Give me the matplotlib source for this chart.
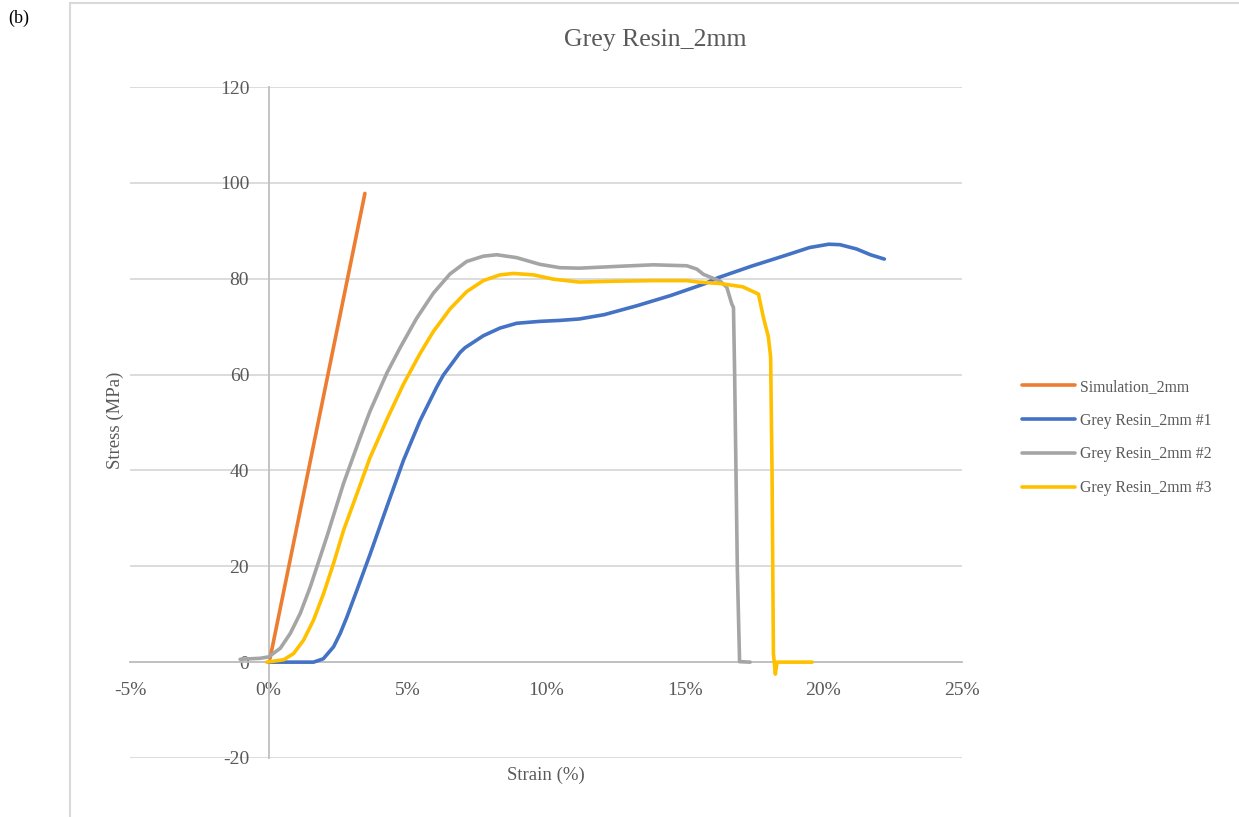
import matplotlib
matplotlib.use("Agg")
import matplotlib.pyplot as plt
from matplotlib.ticker import FuncFormatter
from matplotlib.lines import Line2D

# ---------------- data (strain in %, stress in MPa) ----------------
sim_strain = [0.05, 3.47]
sim_stress = [0.8, 97.8]

s1_strain = [0, 1.0, 1.62, 1.97, 2.34, 2.58, 2.82, 3.18, 3.65, 4.26, 4.86, 5.46, 6.06, 6.3,
             6.9, 7.08, 7.74, 8.34, 8.94, 9.78, 10.5, 11.2, 12.1, 13.3, 14.5, 15.7, 16.2,
             17.4, 18.6, 19.5, 20.2, 20.6, 21.2, 21.7, 22.2]
s1_stress = [0, 0, 0, 0.7, 3.2, 6.0, 9.4, 15.0, 22.4, 32.4, 42.1, 50.4, 57.4, 59.9,
             64.6, 65.6, 68.1, 69.7, 70.7, 71.1, 71.3, 71.6, 72.5, 74.4, 76.5, 78.9, 80.2,
             82.6, 84.8, 86.5, 87.2, 87.1, 86.2, 85.0, 84.1]

s2_strain = [-1.03, -0.31, 0, 0.42, 0.78, 1.14, 1.5, 2.1, 2.7, 3.3, 3.65, 4.26, 4.73, 5.33,
             5.94, 6.54, 7.14, 7.74, 8.22, 8.94, 9.78, 10.5, 11.2, 12.67, 13.87, 15.08, 15.44,
             15.68, 16.28, 16.52, 16.7, 16.76, 16.8, 16.9, 16.98, 17.36]
s2_stress = [0.6, 0.8, 1.1, 2.9, 6.0, 10.2, 15.7, 26.2, 37.3, 46.9, 52.3, 60.3, 65.5, 71.7,
             77.0, 81.0, 83.6, 84.7, 85.0, 84.4, 83.0, 82.3, 82.2, 82.6, 82.9, 82.7, 82.0,
             80.9, 79.5, 78.2, 74.7, 74.0, 60.8, 19.2, 0.1, 0]

s3_strain = [-0.07, 0.54, 0.9, 1.26, 1.62, 1.98, 2.34, 2.7, 3.3, 3.65, 4.26, 4.86, 5.46, 5.94,
             6.54, 7.14, 7.74, 8.34, 8.83, 9.55, 10.27, 11.2, 12.67, 13.87, 15.08, 15.5, 16.28,
             17.1, 17.36, 17.66, 17.84, 18.02, 18.1, 18.15, 18.2, 18.27, 18.33, 19.6]
s3_stress = [0, 0.5, 1.8, 4.6, 8.8, 14.3, 20.6, 27.5, 37.0, 42.6, 50.6, 58.0, 64.4, 69.0,
             73.7, 77.3, 79.6, 80.8, 81.1, 80.8, 79.9, 79.3, 79.5, 79.6, 79.6, 79.3, 79.0,
             78.3, 77.6, 76.8, 71.9, 67.8, 63.6, 40.0, 1.8, -2.5, 0, 0]

series_labels = ["Simulation_2mm", "Grey Resin_2mm #1", "Grey Resin_2mm #2", "Grey Resin_2mm #3"]
x_ticks = [-5, 0, 5, 10, 15, 20, 25]
y_ticks = [-20, 0, 20, 40, 60, 80, 100, 120]

title = "Grey Resin_2mm"
xlabel = "Strain (%)"
ylabel = "Stress (MPa)"

# ---------------- styling ----------------
colors = ["#ED7D31", "#4472C4", "#A5A5A5", "#FFC000"]
txt_col = "#595959"
grid_col = "#D9D9D9"
axis_col = "#BFBFBF"
serif = ["Liberation Serif", "DejaVu Serif"]
plt.rcParams["font.family"] = serif

W, H = 1239, 817
fig = plt.figure(figsize=(W / 100, H / 100), dpi=100)
ax = fig.add_axes([130 / W, 1 - 758 / H, (962 - 130) / W, (758 - 87) / H])

lw = 2.6
series = [(sim_strain, sim_stress), (s1_strain, s1_stress), (s2_strain, s2_stress), (s3_strain, s3_stress)]
for (xs, ys), c, lab in zip(series, colors, series_labels):
    ax.plot(xs, ys, color=c, lw=lw, label=lab, solid_capstyle="round", solid_joinstyle="round", zorder=3)

ax.set_xlim(-5, 25)
ax.set_ylim(-20, 120)
ax.set_xticks(x_ticks)
ax.set_yticks(y_ticks)
ax.xaxis.set_major_formatter(FuncFormatter(lambda v, p: f"{v:.0f}%"))
ax.yaxis.set_major_formatter(FuncFormatter(lambda v, p: f"{v:.0f}"))

for s in ["top", "right"]:
    ax.spines[s].set_visible(False)
ax.spines["bottom"].set_position(("data", 0))
ax.spines["left"].set_position(("data", 0))
for s in ["bottom", "left"]:
    ax.spines[s].set_color(axis_col)
    ax.spines[s].set_linewidth(1.3)
    ax.spines[s].set_zorder(2)

ax.grid(axis="y", color=grid_col, lw=1.3, zorder=1)
ax.set_axisbelow(True)
ax.tick_params(axis="both", length=0, labelsize=14, labelcolor=txt_col)
ax.tick_params(axis="x", pad=14)
ax.tick_params(axis="y", pad=14)

fig.text(655 / W, 1 - 40 / H, title, ha="center", va="center", fontsize=18.5, color=txt_col)
fig.text(546 / W, 1 - 775 / H, xlabel, ha="center", va="center", fontsize=13.5, color=txt_col)
fig.text(115 / W, 1 - 420 / H, ylabel, ha="center", va="center", fontsize=13.5, color=txt_col, rotation=90)
fig.text(8 / W, 1 - 18 / H, "(b)", ha="left", va="center", fontsize=13, color="black")

# chart frame (left & top border)
fig.add_artist(Line2D([70 / W, 70 / W], [0, 1 - 3 / H], transform=fig.transFigure, color=grid_col, lw=1.5))
fig.add_artist(Line2D([70 / W, 1], [1 - 3 / H, 1 - 3 / H], transform=fig.transFigure, color=grid_col, lw=1.5))

leg = fig.legend(loc="center left", bbox_to_anchor=(1022 / W, 1 - 437.5 / H), frameon=False,
                 fontsize=11.3, handlelength=3.4, handletextpad=0.3, labelspacing=1.13,
                 borderpad=0, borderaxespad=0)
for t in leg.get_texts():
    t.set_color(txt_col)

fig.savefig("out.png", dpi=100)
